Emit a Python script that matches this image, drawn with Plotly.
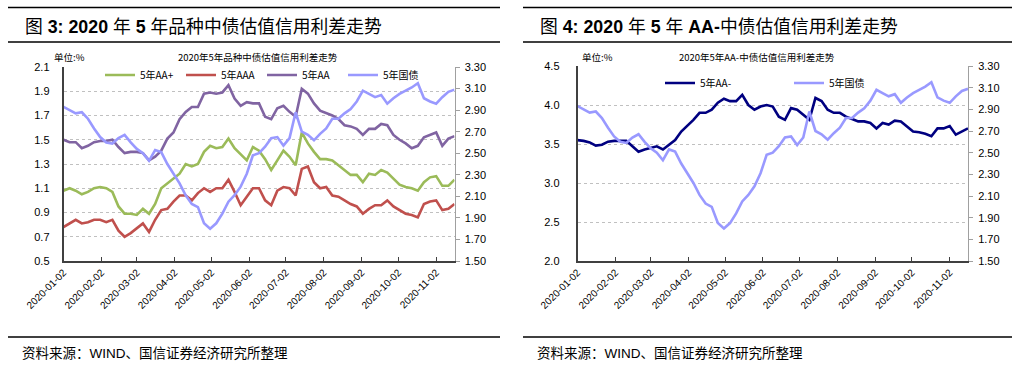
import pandas as pd
import plotly.graph_objects as go

W, H = 1022, 365

# ---- data (5-day sampling) ----
dates = pd.date_range("2020-01-02", periods=65, freq="5D")
tick_dates = ["2020-01-02", "2020-02-02", "2020-03-02", "2020-04-02", "2020-05-02", "2020-06-02",
              "2020-07-02", "2020-08-02", "2020-09-02", "2020-10-02", "2020-11-02"]

aa_plus = [1.08, 1.10, 1.08, 1.05, 1.07, 1.10, 1.11, 1.10, 1.07, 0.95, 0.89, 0.89, 0.88, 0.93, 0.89, 0.97,
           1.10, 1.14, 1.18, 1.22, 1.30, 1.28, 1.30, 1.40, 1.45, 1.43, 1.44, 1.51, 1.43, 1.38, 1.33, 1.44,
           1.41, 1.34, 1.25, 1.33, 1.41, 1.36, 1.29, 1.56, 1.47, 1.40, 1.34, 1.34, 1.33, 1.29, 1.25, 1.21,
           1.21, 1.15, 1.22, 1.21, 1.25, 1.23, 1.18, 1.13, 1.11, 1.10, 1.08, 1.15, 1.19, 1.20, 1.12, 1.12, 1.17]
aaa = [0.78, 0.81, 0.84, 0.81, 0.82, 0.84, 0.84, 0.82, 0.84, 0.75, 0.70, 0.73, 0.77, 0.81, 0.74, 0.84,
       0.92, 0.93, 0.99, 1.04, 1.04, 1.00, 1.06, 1.10, 1.07, 1.10, 1.10, 1.17, 1.07, 0.96, 1.03, 1.10,
       1.10, 1.00, 0.96, 1.08, 1.11, 1.10, 1.04, 1.26, 1.28, 1.15, 1.10, 1.11, 1.04, 1.03, 1.00, 0.97,
       0.95, 0.89, 0.93, 0.96, 0.96, 1.00, 0.95, 0.92, 0.89, 0.88, 0.86, 0.97, 0.99, 1.00, 0.92, 0.93, 0.97]
aa = [1.50, 1.48, 1.48, 1.43, 1.45, 1.48, 1.49, 1.49, 1.50, 1.44, 1.39, 1.40, 1.40, 1.39, 1.33, 1.36,
      1.41, 1.51, 1.56, 1.67, 1.73, 1.77, 1.77, 1.88, 1.89, 1.88, 1.89, 1.95, 1.84, 1.78, 1.81, 1.80,
      1.80, 1.69, 1.67, 1.76, 1.78, 1.73, 1.69, 1.92, 1.88, 1.80, 1.74, 1.72, 1.70, 1.67, 1.62, 1.61,
      1.59, 1.54, 1.59, 1.59, 1.63, 1.62, 1.54, 1.50, 1.47, 1.43, 1.45, 1.52, 1.54, 1.56, 1.45, 1.51, 1.53]
gov5 = [2.93, 2.90, 2.87, 2.88, 2.82, 2.73, 2.65, 2.60, 2.59, 2.64, 2.67, 2.60, 2.54, 2.50, 2.43, 2.53,
        2.51, 2.40, 2.31, 2.22, 2.11, 2.03, 2.00, 1.85, 1.80, 1.85, 1.94, 2.05, 2.11, 2.19, 2.31, 2.48,
        2.50, 2.56, 2.64, 2.65, 2.57, 2.64, 2.88, 2.70, 2.67, 2.62, 2.68, 2.73, 2.82, 2.82, 2.87, 2.91,
        2.98, 3.08, 3.05, 3.02, 3.04, 2.96, 3.01, 3.05, 3.08, 3.11, 3.15, 3.01, 2.98, 2.96, 3.02, 3.07, 3.09]
aa_minus = [3.55, 3.54, 3.52, 3.48, 3.49, 3.53, 3.54, 3.54, 3.54, 3.47, 3.40, 3.43, 3.45, 3.47, 3.43, 3.49,
            3.55, 3.66, 3.73, 3.81, 3.90, 3.90, 3.94, 4.03, 4.08, 4.05, 4.05, 4.13, 4.00, 3.94, 3.98, 4.00,
            3.98, 3.85, 3.81, 3.96, 3.94, 3.88, 3.81, 4.09, 4.05, 3.94, 3.90, 3.90, 3.85, 3.82, 3.79, 3.79,
            3.77, 3.70, 3.77, 3.75, 3.80, 3.79, 3.73, 3.66, 3.65, 3.63, 3.60, 3.70, 3.70, 3.73, 3.62, 3.66, 3.70]

left_ticks = [0.5, 0.7, 0.9, 1.1, 1.3, 1.5, 1.7, 1.9, 2.1]
right_ticks = [1.5, 1.7, 1.9, 2.1, 2.3, 2.5, 2.7, 2.9, 3.1, 3.3]
left2_ticks = [2.0, 2.5, 3.0, 3.5, 4.0, 4.5]

C_GREEN, C_RED, C_PURPLE, C_GOV, C_NAVY = "#9BBB59", "#C0504D", "#8064A2", "#9999FF", "#000080"

fig = go.Figure()
LW = 2.6
fig.add_trace(go.Scatter(x=dates, y=aa_plus, name="5年AA+", mode="lines", line=dict(color=C_GREEN, width=LW),
                         xaxis="x", yaxis="y", legend="legend"))
fig.add_trace(go.Scatter(x=dates, y=aaa, name="5年AAA", mode="lines", line=dict(color=C_RED, width=LW),
                         xaxis="x", yaxis="y", legend="legend"))
fig.add_trace(go.Scatter(x=dates, y=aa, name="5年AA", mode="lines", line=dict(color=C_PURPLE, width=LW),
                         xaxis="x", yaxis="y", legend="legend"))
fig.add_trace(go.Scatter(x=dates, y=gov5, name="5年国债", mode="lines", line=dict(color=C_GOV, width=LW),
                         xaxis="x", yaxis="y2", legend="legend"))
fig.add_trace(go.Scatter(x=dates, y=aa_minus, name="5年AA-", mode="lines", line=dict(color=C_NAVY, width=LW),
                         xaxis="x2", yaxis="y3", legend="legend2"))
fig.add_trace(go.Scatter(x=dates, y=gov5, name="5年国债", mode="lines", line=dict(color=C_GOV, width=LW),
                         xaxis="x2", yaxis="y4", legend="legend2"))

def px(x):
    return x / W

def py(y):
    return (H - y) / H

tick_font = dict(family="Liberation Sans, Arial", size=11, color="#000")
xtick_font = dict(family="Liberation Sans, Arial", size=10, color="#000")
xrange = [dates[0], dates[-1]]

xcommon = dict(type="date", range=xrange, tickvals=tick_dates, ticktext=tick_dates, tickangle=-45,
               tickfont=xtick_font, showline=True, linecolor="#404040", linewidth=1.5, ticks="inside",
               ticklen=4, tickcolor="#404040", showgrid=False, zeroline=False, automargin=False)
fig.update_layout(
    xaxis=dict(domain=[px(63.5), px(454.5)], anchor="y", **xcommon),
    xaxis2=dict(domain=[px(577.5), px(968)], anchor="y3", **xcommon),
    yaxis=dict(domain=[py(261), py(67)], range=[0.5, 2.1], tickvals=left_ticks, tickformat=".1f",
               tickfont=tick_font, showline=True, linecolor="#404040", linewidth=1.5, ticks="",
               ticklabelstandoff=10, showgrid=True, gridcolor="#c0c0c0", griddash="dot", gridwidth=1,
               zeroline=False, anchor="x", automargin=False),
    yaxis2=dict(domain=[py(261), py(67)], range=[1.5, 3.3], tickvals=right_ticks, tickformat=".2f",
                tickfont=tick_font, overlaying="y", side="right", anchor="x", showline=True,
                linecolor="#a0a0a0", linewidth=1, ticks="outside", ticklen=4, tickcolor="#a0a0a0",
                ticklabelstandoff=3, showgrid=False, zeroline=False, automargin=False),
    yaxis3=dict(domain=[py(261), py(66)], range=[2.0, 4.5], tickvals=left2_ticks, tickformat=".1f",
                tickfont=tick_font, showline=True, linecolor="#404040", linewidth=1.5, ticks="",
                ticklabelstandoff=14, showgrid=True, gridcolor="#c0c0c0", griddash="dot", gridwidth=1,
                zeroline=False, anchor="x2", automargin=False),
    yaxis4=dict(domain=[py(261), py(66)], range=[1.5, 3.3], tickvals=right_ticks, tickformat=".2f",
                tickfont=tick_font, overlaying="y3", side="right", anchor="x2", showline=True,
                linecolor="#a0a0a0", linewidth=1, ticks="outside", ticklen=4, tickcolor="#a0a0a0",
                ticklabelstandoff=3, showgrid=False, zeroline=False, automargin=False),
    legend=dict(orientation="h", x=px(100), y=py(75), xanchor="left", yanchor="middle",
                font=dict(family="Noto Sans CJK SC", size=10, color="#000"), bgcolor="rgba(0,0,0,0)",
                entrywidth=36, entrywidthmode="pixels", itemwidth=30, tracegroupgap=0),
    legend2=dict(orientation="h", x=px(660), y=py(83), xanchor="left", yanchor="middle",
                 font=dict(family="Noto Sans CJK SC", size=10, color="#000"), bgcolor="rgba(0,0,0,0)",
                 entrywidth=84, entrywidthmode="pixels", itemwidth=30),
    width=W, height=H, margin=dict(l=0, r=0, t=0, b=0, autoexpand=False),
    paper_bgcolor="white", plot_bgcolor="white",
)

cjk = "Noto Sans CJK SC, Liberation Sans"
ann = []
ann.append(dict(text="图 <b>3: 2020</b> 年 <b>5</b> 年品种中债估值信用利差走势", x=px(23), y=py(27)))
ann.append(dict(text="图 <b>4: 2020</b> 年 <b>5</b> 年 <b>AA-</b>中债估值信用利差走势", x=px(538), y=py(27)))
for a in ann:
    a.update(xref="paper", yref="paper", xanchor="left", yanchor="middle", showarrow=False,
             font=dict(family="Liberation Sans, Noto Sans CJK SC", size=17.8, color="#000"))
small = [
    dict(text="单位:%", x=px(52), y=py(57), xanchor="left"),
    dict(text="2020年5年品种中债估值信用利差走势", x=px(258), y=py(57), xanchor="center"),
    dict(text="单位:%", x=px(580), y=py(57), xanchor="left"),
    dict(text="2020年5年AA-中债估值信用利差走势", x=px(757), y=py(57), xanchor="center"),
]
for a in small:
    a.update(xref="paper", yref="paper", yanchor="middle", showarrow=False,
             font=dict(family=cjk, size=9.5, color="#000"))
src = [
    dict(text="资料来源：WIND、国信证券经济研究所整理", x=px(20), y=py(353)),
    dict(text="资料来源：WIND、国信证券经济研究所整理", x=px(535), y=py(353)),
]
for a in src:
    a.update(xref="paper", yref="paper", xanchor="left", yanchor="middle", showarrow=False,
             font=dict(family="Liberation Sans, Noto Sans CJK SC", size=13.5, color="#000"))
fig.update_layout(annotations=ann + small + src)

# header/footer rules drawn as thin filled rectangles
shapes = []
for (x0, x1) in [(8, 500), (523, 1012)]:
    for yy in [7.5, 42, 337]:
        shapes.append(dict(type="rect", xref="paper", yref="paper", x0=px(x0), x1=px(x1),
                           y0=py(yy + 0.8), y1=py(yy - 0.8), layer="above",
                           fillcolor="#000", line=dict(width=0)))
fig.update_layout(shapes=shapes)

fig.write_html("out.html", config={"displayModeBar": False},
               post_script="document.body.style.margin='0';document.body.style.padding='0';"
                           "document.body.style.overflow='hidden';")
